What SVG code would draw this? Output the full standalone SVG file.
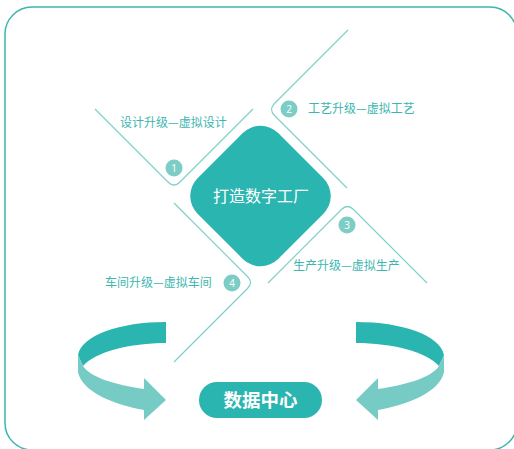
<svg xmlns="http://www.w3.org/2000/svg" width="514" height="449" viewBox="0 0 514 449">
<defs>
<style>
.frame{fill:none;stroke:#3db6af;stroke-width:1.5}
.conn{fill:none;stroke:#7fd0c9;stroke-width:1.2}
.num{fill:#7ccdc6}
.numt{fill:#fff;font-family:"Noto Sans","Noto Sans CJK SC",sans-serif;font-size:10px;text-anchor:middle}
.lbl{fill:#3db6af;font-family:"Noto Sans CJK SC",sans-serif;font-size:12px}
.dark{fill:#2bb5b0}
.light{fill:#77cbc5}
.title{fill:#fff;font-family:"Noto Sans CJK SC",sans-serif;text-anchor:middle}
</style>
<g id="curvedArrow">
<path class="dark" d="M166,322 C120,322 82,335 78,355 L83,366 C95,352 130,343 166,343 Z"/>
<path class="light" d="M78,355 L78,372 C82,392 115,405 144,410 L144,420 L166,400 L144,378 L144,389 C115,385 90,377 83,366 Z"/>
</g>
</defs>
<rect class="frame" x="5" y="7" width="512" height="443" rx="27"/>
<g id="connectors">
<path class="conn" d="M95,109 L168,182 Q174,188 180,182 L253,109"/>
<path class="conn" d="M348,30 L274.5,103.5 Q268.5,109.5 274.5,115.5 L347,188"/>
<path class="conn" d="M268,283 L341.5,209.5 Q347.5,203.5 353.5,209.5 L427,283"/>
<path class="conn" d="M174,203 L247.5,276.5 Q253.5,282.5 247.5,288.5 L174,362"/>
</g>
<g id="center">
<rect class="dark" x="-57" y="-57" width="114" height="114" rx="25" transform="translate(260.5,196) rotate(45)"/>
<text class="title" x="261" y="202" font-size="16">打造数字工厂</text>
</g>
<g id="step1">
<circle class="num" cx="174" cy="168" r="8.5"/>
<text class="numt" x="174" y="171.5">1</text>
<text class="lbl" x="120" y="127">设计升级—虚拟设计</text>
</g>
<g id="step2">
<circle class="num" cx="289" cy="109" r="8.5"/>
<text class="numt" x="289" y="112.5">2</text>
<text class="lbl" x="308" y="113">工艺升级—虚拟工艺</text>
</g>
<g id="step3">
<circle class="num" cx="347" cy="225" r="8.5"/>
<text class="numt" x="347" y="228.5">3</text>
<text class="lbl" x="293" y="270">生产升级—虚拟生产</text>
</g>
<g id="step4">
<circle class="num" cx="232" cy="283" r="8.5"/>
<text class="numt" x="232" y="286.5">4</text>
<text class="lbl" x="105" y="287">车间升级—虚拟车间</text>
</g>
<g id="arrowLeft"><use href="#curvedArrow"/></g>
<g id="arrowRight"><use href="#curvedArrow" transform="translate(522,0) scale(-1,1)"/></g>
<g id="dataCenter">
<rect class="dark" x="199" y="382" width="123" height="36" rx="18"/>
<text class="title" x="260.5" y="406.5" font-size="18.5" font-weight="bold">数据中心</text>
</g>
</svg>
